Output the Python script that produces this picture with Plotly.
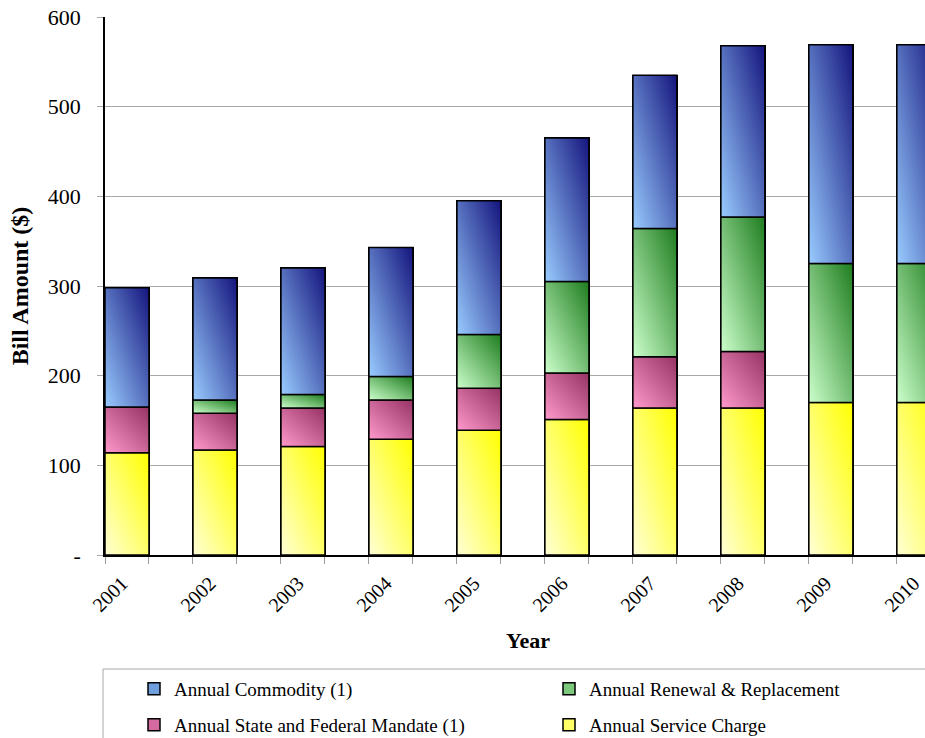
import plotly.graph_objects as go

# ---- data -------------------------------------------------------------
years = ["2001", "2002", "2003", "2004", "2005", "2006", "2007", "2008", "2009", "2010"]
service_charge = [114, 117, 121, 129, 139, 151, 164, 164, 170, 170]
state_federal_mandate = [51, 41, 43, 44, 47, 52, 57, 63, 0, 0]
renewal_replacement = [0, 15, 15, 26, 60, 102, 143, 150, 155, 155]
commodity = [133, 136, 141, 144, 149, 160, 171, 191, 244, 244]
y_ticks = [0, 100, 200, 300, 400, 500, 600]
y_tick_text = ["-", "100", "200", "300", "400", "500", "600"]

FONT = "Liberation Serif"
BAR_W = 0.5

# stacking order bottom -> top: (name, values, light, dark, legend colour, legend id)
series = [
    ("Annual Service Charge", service_charge, (255, 255, 214), (255, 255, 0), "#FFFF66", "legend4"),
    ("Annual State and Federal Mandate (1)", state_federal_mandate, (255, 153, 204), (150, 50, 100), "#D46A9F", "legend3"),
    ("Annual Renewal & Replacement", renewal_replacement, (204, 255, 204), (30, 125, 30), "#7CC87C", "legend2"),
    ("Annual Commodity (1)", commodity, (153, 204, 255), (20, 20, 125), "#6F9FDC", "legend"),
]


def rgba(c, a=1.0):
    return f"rgba({c[0]},{c[1]},{c[2]},{a})"


fig = go.Figure()
xs = list(range(len(years)))

# plain stacked bars (carry the legend entries)
for name, vals, light, dark, legcol, leg in series:
    fig.add_trace(go.Bar(
        x=xs, y=vals, width=BAR_W, name=name, legend=leg,
        marker=dict(color=legcol, line=dict(color="black", width=1.5)),
    ))

# diagonal two-colour gradient on every segment: a horizontal gradient
# blended 50/50 with a vertical one
base = [0] * len(years)
for name, vals, light, dark, legcol, leg in series:
    for i, v in enumerate(vals):
        if v <= 0:
            continue
        x0, x1 = i - BAR_W / 2, i + BAR_W / 2
        y0, y1 = base[i], base[i] + v
        px = [x0, x1, x1, x0, x0]
        py = [y0, y0, y1, y1, y0]
        fig.add_trace(go.Scatter(
            x=px, y=py, mode="lines", fill="toself", showlegend=False,
            hoverinfo="skip", line=dict(width=0, color="rgba(0,0,0,0)"),
            fillgradient=dict(type="horizontal", start=x0, stop=x1,
                              colorscale=[[0, rgba(light)], [1, rgba(dark)]]),
        ))
        fig.add_trace(go.Scatter(
            x=px, y=py, mode="lines", fill="toself", showlegend=False,
            hoverinfo="skip", line=dict(width=1.5, color="black"),
            fillgradient=dict(type="vertical", start=y0, stop=y1,
                              colorscale=[[0, rgba(light, 0.5)], [1, rgba(dark, 0.5)]]),
        ))
    base = [b + v for b, v in zip(base, vals)]

edge_ticks = []
for i in xs:
    edge_ticks += [i - BAR_W / 2, i + BAR_W / 2]

legend_common = dict(
    orientation="h", xref="container", yref="container",
    xanchor="left", yanchor="middle",
    font=dict(family=FONT, size=19, color="black"),
    bgcolor="rgba(0,0,0,0)", borderwidth=0,
)
col_x = [134 / 925, 549 / 925]
row_y = [1 - 689 / 738, 1 - 725 / 738]

fig.update_layout(
    width=925, height=738,
    margin=dict(l=105, r=0, t=17, b=183, pad=0),
    paper_bgcolor="white", plot_bgcolor="white",
    barmode="stack",
    font=dict(family=FONT, color="black"),
    xaxis=dict(
        range=[-0.25, 9.07], tickvals=xs, ticktext=years, tickangle=-45,
        tickfont=dict(family=FONT, size=20, color="black"),
        ticks="", showgrid=False, zeroline=False, ticklabeloverflow="allow",
        ticklabelstandoff=7, ticklabelshift=-5,
        showline=True, linecolor="black", linewidth=1.5,
        minor=dict(tickvals=edge_ticks, ticks="outside", ticklen=7,
                   tickcolor="#9A9A9A", tickwidth=1, showgrid=False),
    ),
    yaxis=dict(
        range=[0, 600], tickvals=y_ticks, ticktext=y_tick_text,
        tickfont=dict(family=FONT, size=22, color="black"),
        showgrid=True, gridcolor="#A8A8A8", gridwidth=1, zeroline=False,
        showline=True, linecolor="black", linewidth=1.5,
        ticks="outside", ticklen=6, tickcolor="#A8A8A8", ticklabelstandoff=12,
        title=dict(text="Bill Amount ($)", standoff=12,
                   font=dict(family=FONT, size=24, weight=700, color="black")),
    ),
    legend=dict(x=col_x[0], y=row_y[0], **legend_common),
    legend2=dict(x=col_x[1], y=row_y[0], **legend_common),
    legend3=dict(x=col_x[0], y=row_y[1], **legend_common),
    legend4=dict(x=col_x[1], y=row_y[1], **legend_common),
    annotations=[dict(
        text="Year", xref="paper", yref="paper", x=(528 - 105) / 820, y=-0.158,
        xanchor="center", yanchor="middle", showarrow=False,
        font=dict(family=FONT, size=22, weight=700, color="black"),
    )],
    shapes=[dict(
        type="rect", xref="paper", yref="paper",
        x0=-2 / 820, x1=1.2, y0=-(669 - 555) / 538, y1=-0.6,
        line=dict(color="#A8A8A8", width=1), fillcolor="rgba(0,0,0,0)", layer="below",
    )],
)

fig.write_html("out.html")
